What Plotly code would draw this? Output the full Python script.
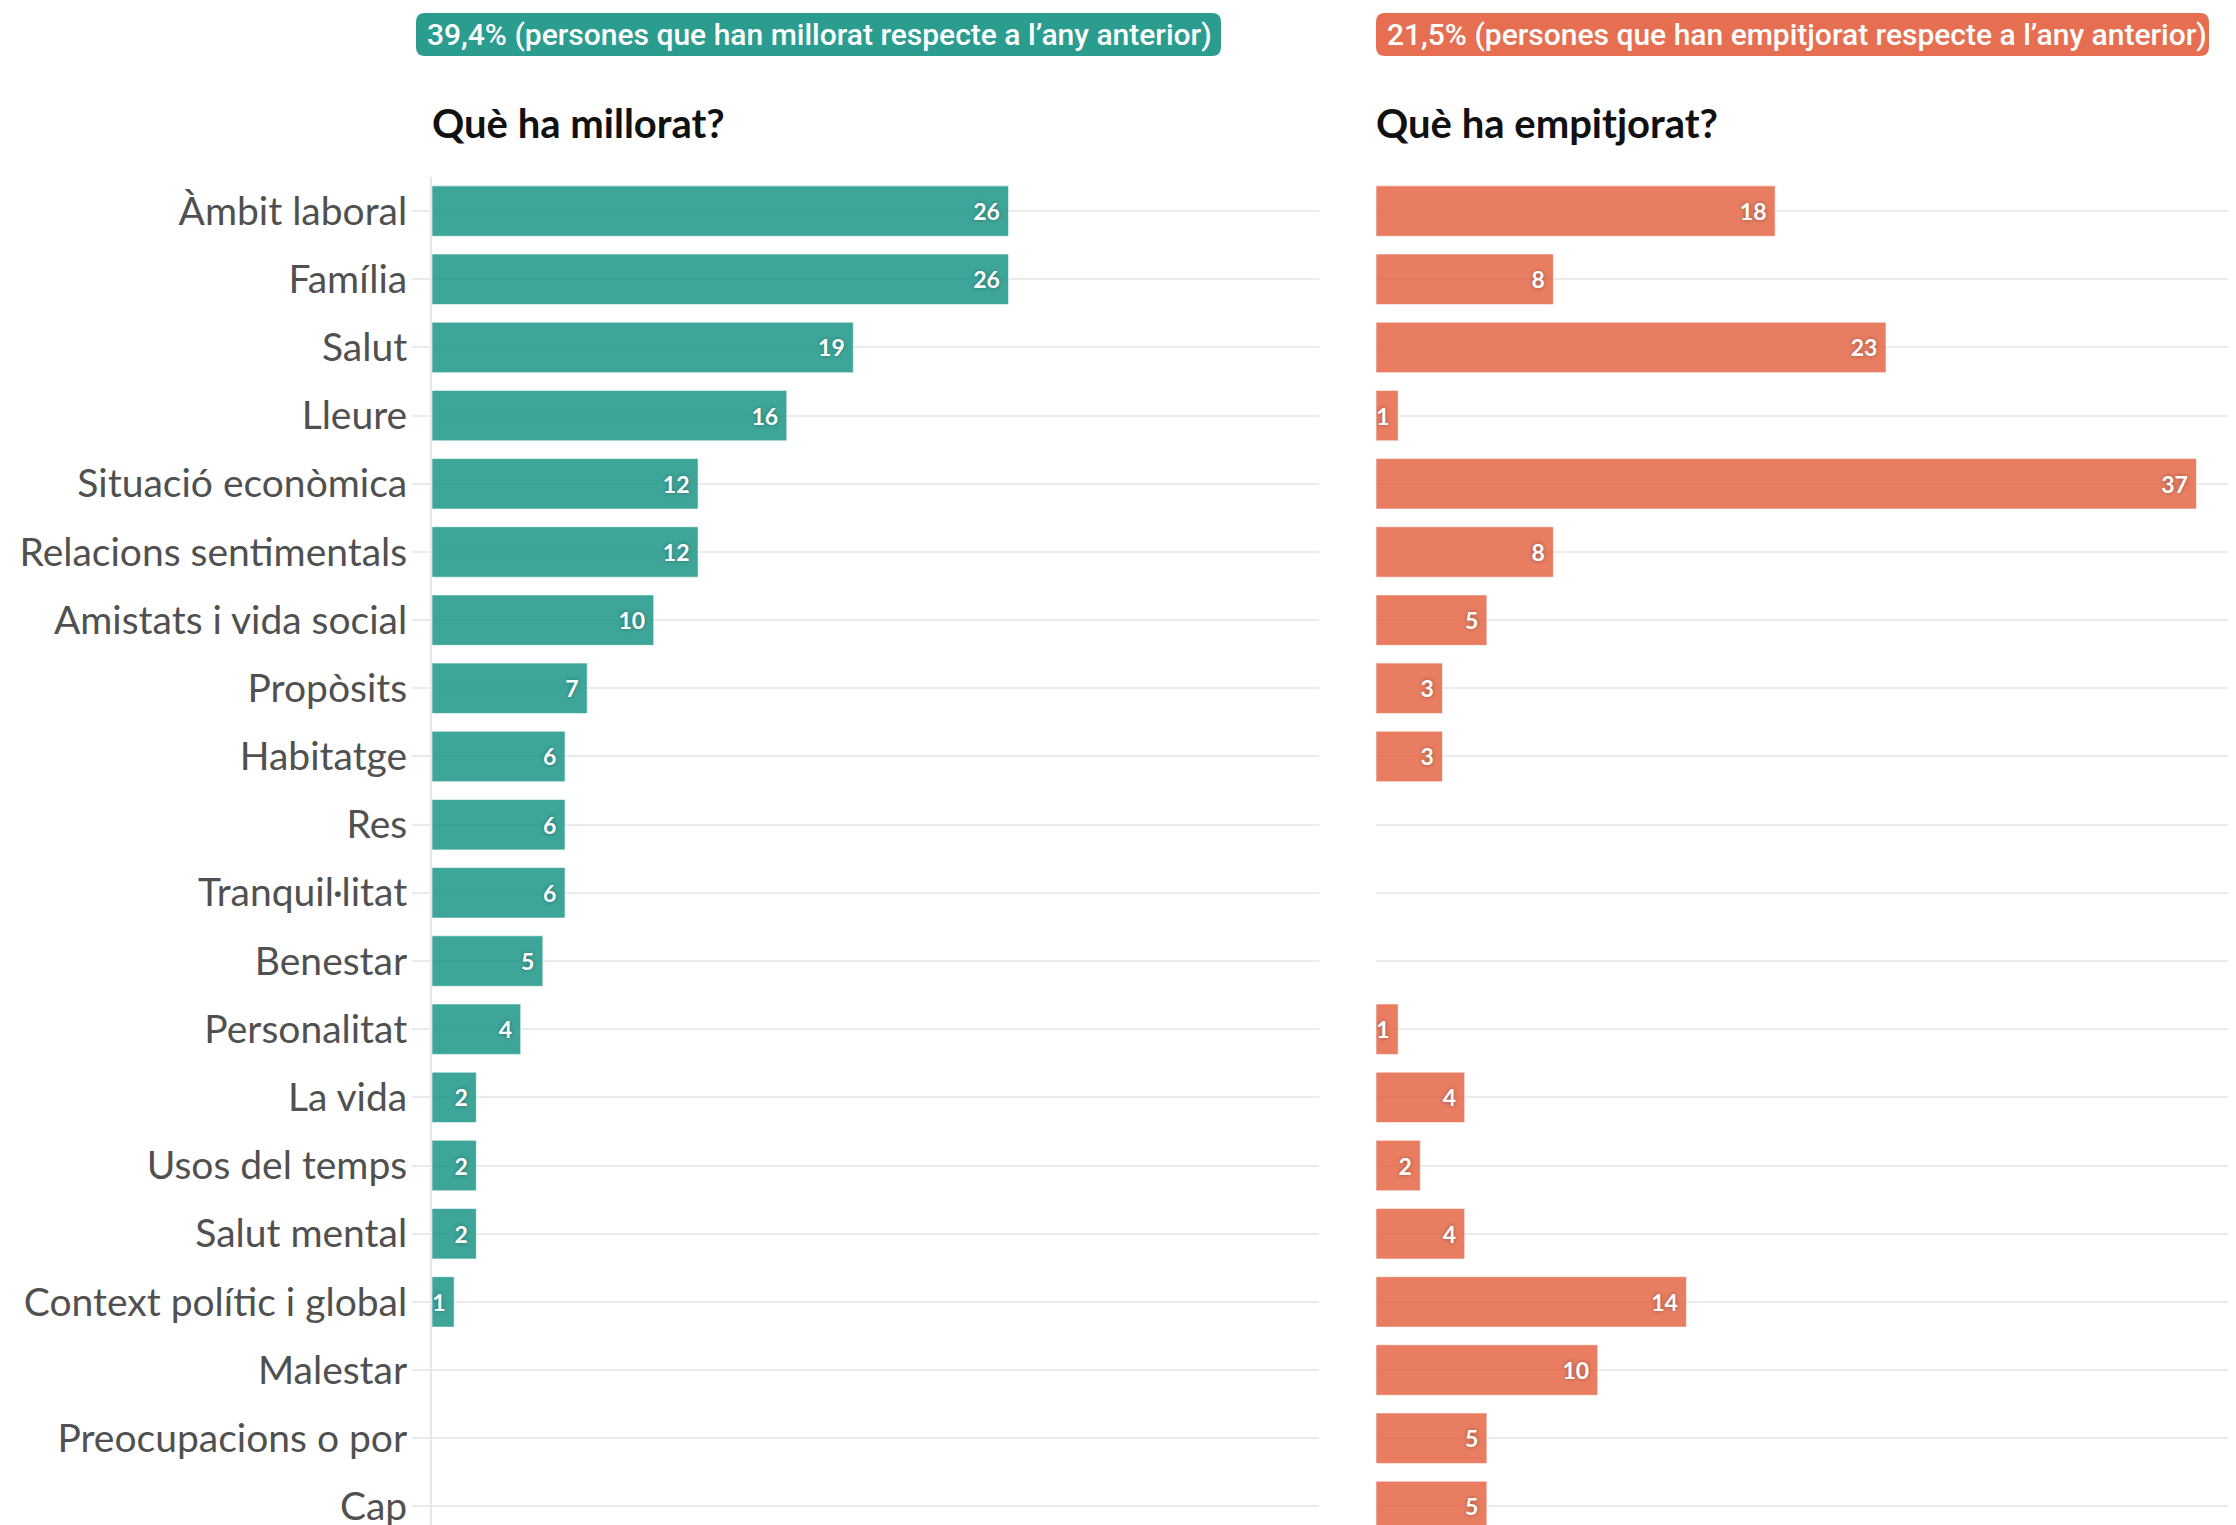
import plotly.graph_objects as go

# Data
categories = ["Àmbit laboral", "Família", "Salut", "Lleure", "Situació econòmica",
              "Relacions sentimentals", "Amistats i vida social", "Propòsits", "Habitatge",
              "Res", "Tranquil·litat", "Benestar", "Personalitat", "La vida",
              "Usos del temps", "Salut mental", "Context polític i global", "Malestar",
              "Preocupacions o por", "Cap"]
millorat = [26, 26, 19, 16, 12, 12, 10, 7, 6, 6, 6, 5, 4, 2, 2, 2, 1, None, None, None]
empitjorat = [18, 8, 23, 1, 37, 8, 5, 3, 3, None, None, None, 1, 4, 2, 4, 14, 10, 5, 5]

label_millorat = "39,4% (persones que han millorat respecte a l’any anterior)"
label_empitjorat = "21,5% (persones que han empitjorat respecte a l’any anterior)"
title_millorat = "Què ha millorat?"
title_empitjorat = "Què ha empitjorat?"

GREEN = "#2a9d8f"
RED = "#e76f51"
GRID = "#ebebeb"
W, H = 2236, 1525
OFF = 8  # page body margin


def px(x, y):
    # screenshot pixel -> paper coords
    return (x - OFF) / W, 1 - (y - OFF) / H


def rounded_box(x0, y0, x1, y1, r):
    def p(x, y):
        a, b = px(x, y)
        return f"{a:.5f},{b:.5f}"
    return (f"M {p(x0 + r, y0)} L {p(x1 - r, y0)} Q {p(x1, y0)} {p(x1, y0 + r)} "
            f"L {p(x1, y1 - r)} Q {p(x1, y1)} {p(x1 - r, y1)} "
            f"L {p(x0 + r, y1)} Q {p(x0, y1)} {p(x0, y1 - r)} "
            f"L {p(x0, y0 + r)} Q {p(x0, y0)} {p(x0 + r, y0)} Z")


bar_text = dict(family="Lato", size=23, color="white", weight="bold",
                shadow="0px 0px 4px rgba(0,0,0,0.35)")

fig = go.Figure()
fig.add_trace(go.Bar(y=categories, x=millorat, orientation="h",
                     marker=dict(color=GREEN, opacity=0.9, line=dict(width=1, color="rgba(255,255,255,0.6)")),
                     texttemplate="%{x}\u00a0", textposition="inside", insidetextanchor="end",
                     textfont=bar_text, constraintext="none",
                     xaxis="x", yaxis="y", hoverinfo="skip"))
fig.add_trace(go.Bar(y=categories, x=empitjorat, orientation="h",
                     marker=dict(color=RED, opacity=0.9, line=dict(width=1, color="rgba(255,255,255,0.6)")),
                     texttemplate="%{x}\u00a0", textposition="inside", insidetextanchor="end",
                     textfont=bar_text, constraintext="none",
                     xaxis="x2", yaxis="y", hoverinfo="skip"))

# plot area in screenshot pixels
left0, left1 = 432, 1319
right0 = 1376
top = 177
scale = (left1 - left0) / 40  # px per unit
right_units = (W + OFF - right0) / scale

fig.update_layout(
    width=W, height=H,
    margin=dict(l=0, r=0, t=0, b=0),
    paper_bgcolor="white", plot_bgcolor="white",
    showlegend=False, bargap=0.26,
    font=dict(family="Lato", color="#505050"),
    xaxis=dict(domain=[px(left0, 0)[0], px(left1, 0)[0]], range=[0, 40], visible=False, fixedrange=True),
    xaxis2=dict(domain=[px(right0, 0)[0], 1.0], range=[0, right_units], visible=False, fixedrange=True),
    yaxis=dict(domain=[0, px(0, top)[1]], anchor="x",
               categoryorder="array", categoryarray=categories,
               range=[19.39, -0.5],
               showgrid=True, gridcolor=GRID, gridwidth=2,
               showline=True, linecolor="#e6e6e6", linewidth=2,
               ticks="outside", ticklen=18, tickwidth=2, tickcolor=GRID,
               ticklabelstandoff=-3,
               tickfont=dict(family="Lato", size=39, color="#505050"),
               zeroline=False, fixedrange=True),
)

# pill labels
shapes = [
    dict(type="path", xref="paper", yref="paper", path=rounded_box(416, 13, 1221, 56, 9),
         fillcolor=GREEN, line=dict(width=0), layer="below"),
    dict(type="path", xref="paper", yref="paper", path=rounded_box(1376, 13, 2209, 56, 9),
         fillcolor=RED, line=dict(width=0), layer="below"),
]
fig.update_layout(shapes=shapes)

pill_font = dict(family="Roboto", size=30, color="white", weight=500)
fig.add_annotation(text=label_millorat, xref="paper", yref="paper", x=px(425, 0)[0], y=px(0, 35)[1],
                   xanchor="left", yanchor="middle", showarrow=False, font=pill_font)
fig.add_annotation(text=label_empitjorat, xref="paper", yref="paper", x=px(1385, 0)[0], y=px(0, 35)[1],
                   xanchor="left", yanchor="middle", showarrow=False, font=pill_font)

title_font = dict(family="Lato", size=40, color="#111111", weight="bold")
fig.add_annotation(text=title_millorat, xref="paper", yref="paper", x=px(430, 0)[0], y=px(0, 123)[1],
                   xanchor="left", yanchor="middle", showarrow=False, font=title_font)
fig.add_annotation(text=title_empitjorat, xref="paper", yref="paper", x=px(1374, 0)[0], y=px(0, 123)[1],
                   xanchor="left", yanchor="middle", showarrow=False, font=title_font)

fig.write_html("out.html")
